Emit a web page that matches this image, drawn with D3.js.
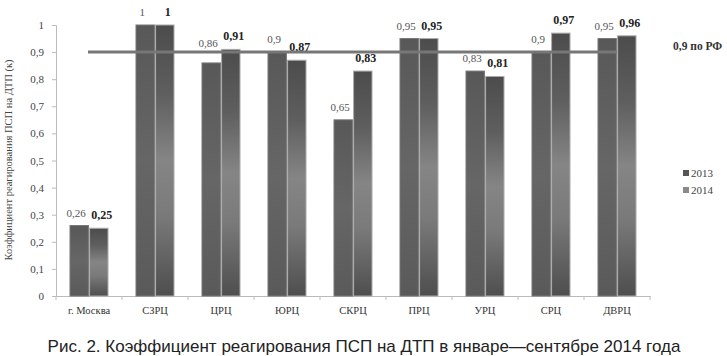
<!DOCTYPE html>
<html><head><meta charset="utf-8">
<script src="https://cdn.jsdelivr.net/npm/d3@7"></script>
<style>body{margin:0;background:#fff}svg{display:block}</style>
</head><body>
<svg id="c" width="727" height="356"></svg>
<script>
const categories = ["г. Москва","СЗРЦ","ЦРЦ","ЮРЦ","СКРЦ","ПРЦ","УРЦ","СРЦ","ДВРЦ"];
const values2013 = [0.26,1,0.86,0.9,0.65,0.95,0.83,0.9,0.95];
const values2014 = [0.25,1,0.91,0.87,0.83,0.95,0.81,0.97,0.96];
const seriesNames = ["2013","2014"];
const yTicks = [0,0.1,0.2,0.3,0.4,0.5,0.6,0.7,0.8,0.9,1];
const refValue = 0.9;
const refLabel = "0,9 по РФ";
const yTitle = "Коэффициент реагирования ПСП на ДТП (к)";
const caption = "Рис. 2. Коэффициент реагирования ПСП на ДТП в январе—сентябре 2014 года";

const SERIF = '"Liberation Serif", serif';
const SANS = '"Liberation Sans", sans-serif';
const svg = d3.select("#c");
const fmt = v => String(v).replace(".", ",");
const x = d3.scaleBand().domain(categories).range([56, 650]);
const y = d3.scaleLinear().domain([0,1]).range([296, 25]);
const xs = d3.scaleBand().domain(seriesNames).range([0, 38]).paddingInner(0.06);

const defs = svg.append("defs");
const g13 = defs.append("linearGradient").attr("id","g13").attr("x1",0).attr("y1",0).attr("x2",0).attr("y2",1);
[["0%","#585858"],["50%","#666"],["100%","#5a5a5a"]].forEach(s=>g13.append("stop").attr("offset",s[0]).attr("stop-color",s[1]));
const g14 = defs.append("linearGradient").attr("id","g14").attr("x1",0).attr("y1",0).attr("x2",0).attr("y2",1);
[["0%","#4c4c4c"],["25%","#5e5e5e"],["50%","#858585"],["70%","#7a7a7a"],["100%","#4e4e4e"]].forEach(s=>g14.append("stop").attr("offset",s[0]).attr("stop-color",s[1]));

// y axis
const ya = svg.append("g").attr("transform","translate(56,0)")
  .call(d3.axisLeft(y).tickValues(yTicks).tickFormat(fmt).tickSize(4).tickPadding(8));
ya.select(".domain").attr("stroke","#bbb");
ya.selectAll(".tick line").attr("stroke","#bbb");
ya.selectAll("text").style("font-family",SERIF).style("font-size","11px").attr("fill","#444");

// x axis
const xa = svg.append("g").attr("transform","translate(0,296)")
  .call(d3.axisBottom(x).tickSize(0).tickPadding(11));
xa.select(".domain").attr("stroke","#bbb");
xa.selectAll("text").style("font-family",SERIF).style("font-size","10.5px").attr("fill","#333");
xa.selectAll(".sep").data(categories.concat(["end"])).enter().append("line")
  .attr("x1",(d,i)=>56+i*x.bandwidth()).attr("x2",(d,i)=>56+i*x.bandwidth())
  .attr("y1",0).attr("y2",4).attr("stroke","#bbb");

const data = categories.map((c,i)=>({c, vals:[values2013[i], values2014[i]]}));
const grp = svg.append("g").selectAll("g").data(data).enter().append("g")
  .attr("transform", d=>`translate(${x(d.c)+x.bandwidth()/2-19},0)`);
grp.selectAll("rect").data(d=>d.vals.map((v,k)=>({v,k}))).enter().append("rect")
  .attr("x", d=>xs(seriesNames[d.k]))
  .attr("width", xs.bandwidth())
  .attr("y", d=>y(d.v))
  .attr("height", d=>y(0)-y(d.v))
  .attr("fill", d=>d.k===0?"url(#g13)":"url(#g14)")
  .attr("stroke", d=>d.k===0?"#777":"#aaa").attr("stroke-width",1);

// reference line
svg.append("line").attr("x1",88).attr("x2",617).attr("y1",y(refValue)).attr("y2",y(refValue))
  .attr("stroke","#777").attr("stroke-width",3);
svg.append("text").attr("x",673).attr("y",y(refValue)-2).style("font-family",SERIF)
  .style("font-size","11.5px").attr("font-weight","bold").attr("fill","#333").text(refLabel);

// labels
grp.selectAll("text").data(d=>d.vals.map((v,k)=>({v,k}))).enter().append("text")
  .attr("x", d=>xs(seriesNames[d.k])+xs.bandwidth()/2 + (d.k===1?3:-3))
  .attr("y", d=>y(d.v)-(d.k===0 && d.v<0.9 && d.v>0.85 ? 16 : 9))
  .attr("text-anchor","middle")
  .style("font-family",SERIF)
  .style("font-size", d=>d.k===0?"11px":"12px")
  .attr("font-weight", d=>d.k===0?"normal":"bold")
  .attr("fill", d=>d.k===0?"#555":"#222")
  .text(d=>fmt(d.v));

// legend
const lg = svg.append("g").attr("transform","translate(683,174)");
seriesNames.forEach((s,i)=>{
  lg.append("rect").attr("x",0).attr("y",i*17-4).attr("width",6).attr("height",6)
    .attr("fill", i===0?"#555":"#8a8a8a");
  lg.append("text").attr("x",8).attr("y",i*17+3).style("font-family",SERIF)
    .style("font-size","11px").attr("fill","#444").text(s);
});

// y title
svg.append("text").attr("transform","translate(12,160) rotate(-90)").attr("text-anchor","middle")
  .style("font-family",SERIF).style("font-size","10.5px").attr("fill","#444").text(yTitle);

// caption
svg.append("text").attr("x",364).attr("y",352).attr("text-anchor","middle")
  .style("font-family",SANS).style("font-size","17px").attr("fill","#222")
  .text(caption);
</script>
</body></html>
